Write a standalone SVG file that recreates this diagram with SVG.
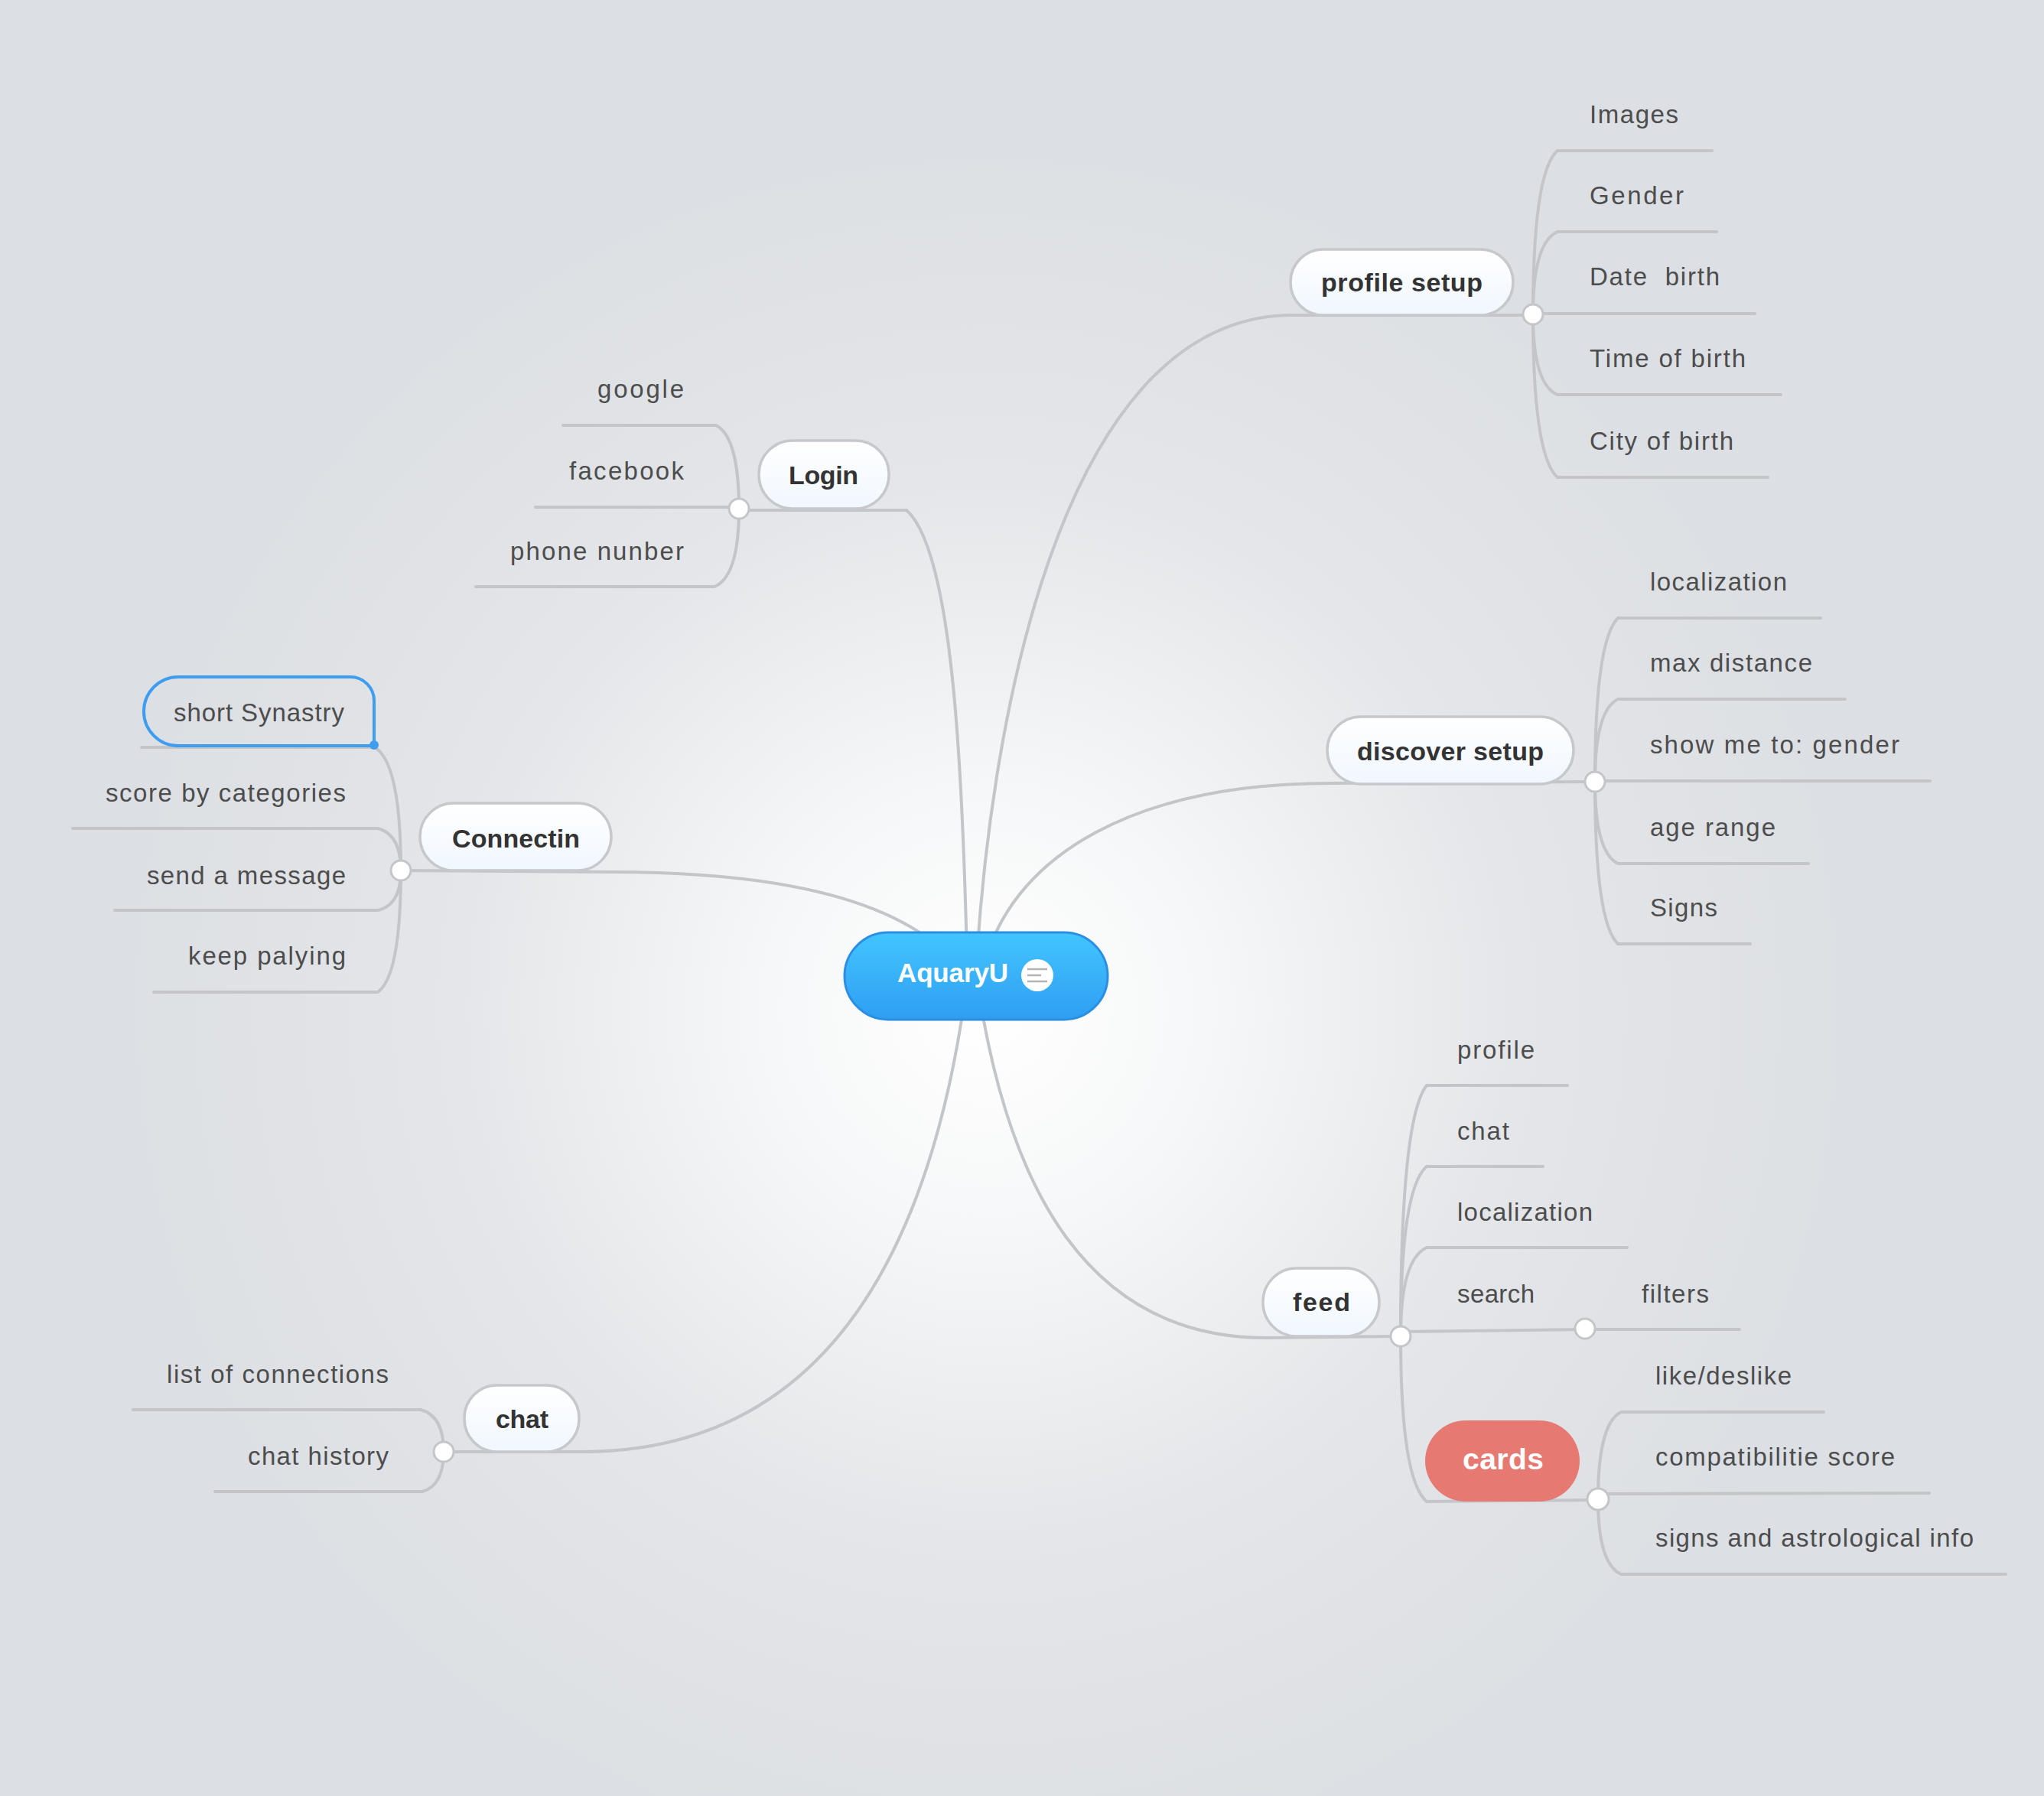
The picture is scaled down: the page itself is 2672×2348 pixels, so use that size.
<svg xmlns="http://www.w3.org/2000/svg" width="2672" height="2348" viewBox="0 0 2672 2348">
<defs>
<radialGradient id="bg" cx="1290" cy="1320" r="1150" gradientUnits="userSpaceOnUse">
<stop offset="0" stop-color="#ffffff"/>
<stop offset="0.25" stop-color="#f6f7f8"/>
<stop offset="0.6" stop-color="#e4e6e9"/>
<stop offset="1" stop-color="#dcdfe3"/>
</radialGradient>
<linearGradient id="pill" x1="0" y1="0" x2="0" y2="1">
<stop offset="0" stop-color="#ffffff"/>
<stop offset="1" stop-color="#f0f7ff"/>
</linearGradient>
<linearGradient id="root" x1="0" y1="0" x2="0" y2="1">
<stop offset="0" stop-color="#42c5ff"/>
<stop offset="1" stop-color="#2f9ef2"/>
</linearGradient>
<style>
.c{fill:none;stroke:#c3c5c8;stroke-width:4;stroke-linecap:round}
.p{fill:url(#pill);stroke:#c6c8cb;stroke-width:3.5}
.t{font-family:"Liberation Sans",Arial,sans-serif;font-weight:bold;font-size:34px;fill:#333333}
.l{font-family:"Liberation Sans",Arial,sans-serif;font-size:33px;fill:#4d4d4d}
.e{text-anchor:end}
.j{fill:#ffffff;stroke:#c3c5c8;stroke-width:3}
</style>
</defs>
<rect x="0" y="0" width="2672" height="2348" fill="url(#bg)"/>

<g id="connectors">
<!-- main branches -->
<path class="c" d="M 1264 1250 C 1258 1000, 1245 720, 1185 667 L 966 667"/>
<path class="c" d="M 1277 1250 C 1300 900, 1400 412, 1690 412 L 2004 412"/>
<path class="c" d="M 1290 1250 C 1330 1120, 1480 1024, 1740 1024 L 2085 1022"/>
<path class="c" d="M 1230 1240 C 1150 1170, 1000 1140, 800 1140 L 524 1138"/>
<path class="c" d="M 1262 1300 C 1220 1600, 1100 1898, 760 1898 L 580 1898"/>
<path class="c" d="M 1280 1300 C 1320 1550, 1420 1749, 1655 1749 L 1831 1747"/>
<!-- profile setup children -->
<path class="c" d="M 2004 411 C 2004 304, 2012 218, 2036 197 L 2238 197"/>
<path class="c" d="M 2004 411 C 2004 357, 2012 314, 2036 303 L 2244 303"/>
<path class="c" d="M 2004 410 L 2294 410"/>
<path class="c" d="M 2004 411 C 2004 464, 2012 506, 2036 516 L 2328 516"/>
<path class="c" d="M 2004 411 C 2004 518, 2012 603, 2036 624 L 2311 624"/>
<!-- discover setup children -->
<path class="c" d="M 2085 1022 C 2085 915, 2093 830, 2115 808 L 2380 808"/>
<path class="c" d="M 2085 1022 C 2085 968, 2093 925, 2115 914 L 2412 914"/>
<path class="c" d="M 2085 1021 L 2523 1021"/>
<path class="c" d="M 2085 1022 C 2085 1076, 2093 1118, 2115 1129 L 2364 1129"/>
<path class="c" d="M 2085 1022 C 2085 1128, 2093 1213, 2115 1234 L 2288 1234"/>
<!-- feed children -->
<path class="c" d="M 1831 1747 C 1831 1583, 1839 1452, 1865 1419 L 2049 1419"/>
<path class="c" d="M 1831 1747 C 1831 1636, 1839 1547, 1865 1525 L 2017 1525"/>
<path class="c" d="M 1831 1747 C 1831 1689, 1839 1643, 1865 1631 L 2127 1631"/>
<path class="c" d="M 1831 1741 L 2072 1738"/>
<path class="c" d="M 2072 1738 L 2274 1738"/>
<path class="c" d="M 1831 1747 C 1831 1855, 1839 1941, 1865 1963 L 2089 1961"/>
<!-- cards children -->
<path class="c" d="M 2089 1960 C 2089 1903, 2097 1857, 2119 1846 L 2384 1846"/>
<path class="c" d="M 2089 1953 L 2522 1952"/>
<path class="c" d="M 2089 1960 C 2089 2009, 2097 2048, 2119 2058 L 2622 2058"/>
<!-- login children -->
<path class="c" d="M 966 665 C 966 611, 958 567, 936 556 L 736 556"/>
<path class="c" d="M 966 663 L 700 663"/>
<path class="c" d="M 966 665 C 966 716, 958 757, 934 767 L 622 767"/>
<!-- connectin children -->
<path class="c" d="M 524 1138 C 524 1058, 516 993, 490 977 L 185 977"/>
<path class="c" d="M 524 1138 C 524 1111, 516 1089, 494 1083 L 95 1083"/>
<path class="c" d="M 524 1138 C 524 1164, 516 1185, 494 1190 L 150 1190"/>
<path class="c" d="M 524 1138 C 524 1218, 516 1281, 494 1297 L 201 1297"/>
<!-- chat children -->
<path class="c" d="M 580 1898 C 580 1871, 572 1849, 550 1843 L 174 1843"/>
<path class="c" d="M 580 1898 C 580 1924, 572 1945, 552 1950 L 281 1950"/>
</g>

<g id="node-root">
<rect x="1104" y="1219" width="344" height="114" rx="57" fill="url(#root)" stroke="#2a8ee3" stroke-width="3"/>
<text x="1173" y="1284" font-family="Liberation Sans, Arial, sans-serif" font-weight="bold" font-size="35" fill="#ffffff" textLength="145">AquaryU</text>
<circle cx="1356" cy="1275" r="21" fill="#ffffff"/>
<path d="M 1343 1267 H 1369 M 1343 1275 H 1361 M 1343 1283 H 1369" stroke="#b3b3b3" stroke-width="2.5" fill="none"/>
</g>

<g id="node-profile-setup">
<rect class="p" x="1687" y="326" width="291" height="86" rx="43"/>
<text class="t" x="1727" y="381" textLength="211">profile setup</text>
<circle class="j" cx="2004" cy="411" r="13"/>
</g>
<g id="leaf-images"><text class="l" x="2078" y="161" textLength="116">Images</text></g>
<g id="leaf-gender"><text class="l" x="2078" y="267" textLength="123">Gender</text></g>
<g id="leaf-date-birth"><text class="l" x="2078" y="373" textLength="170" xml:space="preserve">Date  birth</text></g>
<g id="leaf-time-of-birth"><text class="l" x="2078" y="480" textLength="204">Time of birth</text></g>
<g id="leaf-city-of-birth"><text class="l" x="2078" y="588" textLength="188">City of birth</text></g>

<g id="node-login">
<rect class="p" x="992" y="576" width="170" height="89" rx="44"/>
<text class="t" x="1031" y="633" textLength="91">Login</text>
<circle class="j" cx="966" cy="665" r="13"/>
</g>
<g id="leaf-google"><text class="l e" x="894" y="520" textLength="113">google</text></g>
<g id="leaf-facebook"><text class="l e" x="894" y="627" textLength="150">facebook</text></g>
<g id="leaf-phone"><text class="l e" x="894" y="732" textLength="227">phone nunber</text></g>

<g id="node-connectin">
<rect class="p" x="549" y="1050" width="250" height="88" rx="44"/>
<text class="t" x="591" y="1108" textLength="167">Connectin</text>
<circle class="j" cx="524" cy="1138" r="13"/>
</g>
<g id="leaf-short-synastry">
<path d="M 233 885 L 458 885 A 31 31 0 0 1 489 916 L 489 975 L 233 975 A 45 45 0 0 1 233 885 Z" fill="none" stroke="#3f9df0" stroke-width="4"/>
<circle cx="489" cy="974" r="6" fill="#3f9df0"/>
<text class="l e" x="450" y="943" textLength="223">short Synastry</text>
</g>
<g id="leaf-score"><text class="l e" x="452" y="1048" textLength="314">score by categories</text></g>
<g id="leaf-send"><text class="l e" x="452" y="1156" textLength="260">send a message</text></g>
<g id="leaf-keep"><text class="l e" x="452" y="1261" textLength="206">keep palying</text></g>

<g id="node-discover-setup">
<rect class="p" x="1735" y="937" width="322" height="88" rx="44"/>
<text class="t" x="1774" y="994" textLength="244">discover setup</text>
<circle class="j" cx="2085" cy="1022" r="13"/>
</g>
<g id="leaf-localization-d"><text class="l" x="2157" y="772" textLength="179">localization</text></g>
<g id="leaf-max-distance"><text class="l" x="2157" y="878" textLength="212">max distance</text></g>
<g id="leaf-show-me"><text class="l" x="2157" y="985" textLength="326">show me to: gender</text></g>
<g id="leaf-age-range"><text class="l" x="2157" y="1093" textLength="164">age range</text></g>
<g id="leaf-signs"><text class="l" x="2157" y="1198" textLength="88">Signs</text></g>

<g id="node-feed">
<rect class="p" x="1651" y="1658" width="152" height="89" rx="44"/>
<text class="t" x="1690" y="1714" textLength="75">feed</text>
<circle class="j" cx="1831" cy="1747" r="13"/>
</g>
<g id="leaf-profile"><text class="l" x="1905" y="1384" textLength="101">profile</text></g>
<g id="leaf-chat-f"><text class="l" x="1905" y="1490" textLength="68">chat</text></g>
<g id="leaf-localization-f"><text class="l" x="1905" y="1596" textLength="177">localization</text></g>
<g id="leaf-search">
<text class="l" x="1905" y="1703" textLength="101">search</text>
<circle class="j" cx="2072" cy="1737" r="13"/>
</g>
<g id="leaf-filters"><text class="l" x="2146" y="1703" textLength="88">filters</text></g>

<g id="node-cards">
<rect x="1863" y="1857" width="202" height="106" rx="53" fill="#e67a72"/>
<text x="1912" y="1921" font-family="Liberation Sans, Arial, sans-serif" font-weight="bold" font-size="39" fill="#ffffff" textLength="106">cards</text>
<circle class="j" cx="2089" cy="1960" r="14"/>
</g>
<g id="leaf-like"><text class="l" x="2164" y="1810" textLength="178">like/deslike</text></g>
<g id="leaf-compat"><text class="l" x="2164" y="1916" textLength="313">compatibilitie score</text></g>
<g id="leaf-signs-astro"><text class="l" x="2164" y="2022" textLength="416">signs and astrological info</text></g>

<g id="node-chat">
<rect class="p" x="607" y="1811" width="150" height="87" rx="43"/>
<text class="t" x="648" y="1867" textLength="69">chat</text>
<circle class="j" cx="580" cy="1898" r="13"/>
</g>
<g id="leaf-list"><text class="l e" x="508" y="1808" textLength="290">list of connections</text></g>
<g id="leaf-chat-history"><text class="l e" x="508" y="1915" textLength="184">chat history</text></g>
</svg>
